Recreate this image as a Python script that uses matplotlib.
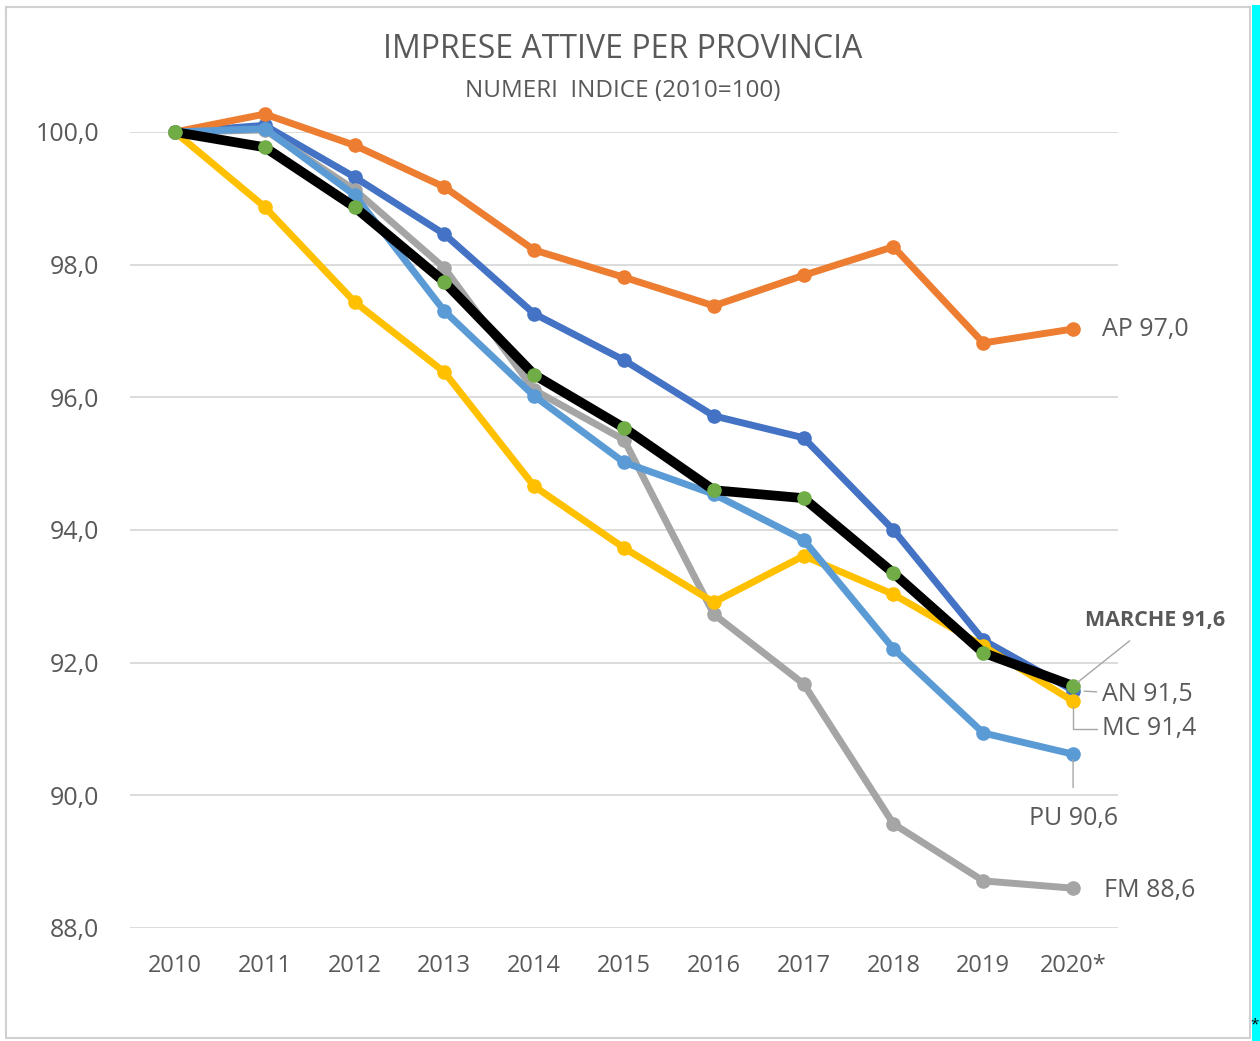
import matplotlib.pyplot as plt
from matplotlib.patches import Rectangle

plt.rcParams["font.family"] = ["Open Sans", "DejaVu Sans"]

years = ["2010", "2011", "2012", "2013", "2014", "2015", "2016", "2017", "2018", "2019", "2020*"]

an = [100.0, 100.10, 99.32, 98.46, 97.26, 96.56, 95.72, 95.39, 94.00, 92.34, 91.58]
ap = [100.0, 100.27, 99.80, 99.17, 98.22, 97.81, 97.38, 97.84, 98.27, 96.82, 97.03]
fm = [100.0, 100.03, 99.13, 97.95, 96.11, 95.36, 92.73, 91.68, 89.57, 88.71, 88.60]
mc = [100.0, 98.87, 97.44, 96.38, 94.66, 93.73, 92.91, 93.61, 93.03, 92.25, 91.42]
pu = [100.0, 100.05, 99.05, 97.30, 96.02, 95.02, 94.54, 93.85, 92.21, 90.94, 90.62]
marche = [100.0, 99.77, 98.87, 97.74, 96.34, 95.54, 94.60, 94.48, 93.35, 92.15, 91.65]

TXT = "#595959"

fig = plt.figure(figsize=(12.6, 10.41), dpi=100)
fig.patch.set_facecolor("white")

# outer frame + cyan strip on the right edge
fig.patches.append(Rectangle((0.005, 0.003), 0.987, 0.99, transform=fig.transFigure,
                             facecolor="none", edgecolor="#D0D0D0", linewidth=1.5))
fig.patches.append(Rectangle((1252 / 1260, 0), 8 / 1260, 0.995, transform=fig.transFigure,
                             facecolor="#00FFFF", edgecolor="none"))
fig.text(1255 / 1260, 0.008, "*", fontsize=11, color="black", ha="center", va="bottom")

ax = fig.add_axes([130 / 1260, 1 - 928 / 1041, 988 / 1260, 796 / 1041])
x = list(range(len(years)))

series = [
  (an, "#4472C4", "#4472C4", 5),
  (ap, "#ED7D31", "#ED7D31", 5),
  (fm, "#A5A5A5", "#A5A5A5", 5),
  (mc, "#FFC000", "#FFC000", 5),
  (pu, "#5B9BD5", "#5B9BD5", 5),
  (marche, "black", "#70AD47", 7),
]
for vals, col, mcol, lw in series:
  ax.plot(x, vals, color=col, linewidth=lw, marker="o", markersize=9.5,
          markerfacecolor=mcol, markeredgecolor=mcol, solid_joinstyle="round",
          zorder=3, clip_on=False)

ax.set_xlim(-0.5, 10.5)
ax.set_ylim(88, 100)
ax.set_yticks([88, 90, 92, 94, 96, 98, 100])
ax.set_yticklabels([f"{v:.1f}".replace(".", ",") for v in [88, 90, 92, 94, 96, 98, 100]])
ax.set_xticks(x)
ax.set_xticklabels(years)
ax.tick_params(axis="both", length=0, labelcolor=TXT)
ax.tick_params(axis="y", pad=22, labelsize=18)
ax.tick_params(axis="x", pad=19, labelsize=17)
ax.grid(axis="y", color="#D9D9D9", linewidth=1.3)
ax.set_axisbelow(True)
for s in ax.spines.values():
  s.set_visible(False)

# end labels
leader = dict(arrowstyle="-", color="#A6A6A6", linewidth=1)
fs = 18
ax.annotate("AP 97,0", xy=(10, ap[-1]), xytext=(21, 0), textcoords="offset points",
            ha="left", va="center", fontsize=fs, color=TXT)
ax.annotate("MARCHE 91,6", xy=(10, marche[-1]), xytext=(59, 47),
            textcoords="offset points", ha="center", va="center", fontsize=15.5,
            color=TXT, fontweight="bold",
            arrowprops=dict(leader, shrinkA=8, shrinkB=4))
ax.annotate("AN 91,5", xy=(10, an[-1]), xytext=(21, -3), textcoords="offset points",
            ha="left", va="center", fontsize=fs, color=TXT,
            arrowprops=dict(leader, shrinkA=2, shrinkB=8))
ax.annotate("MC 91,4", xy=(10, mc[-1]), xytext=(21, -20), textcoords="offset points",
            ha="left", va="center", fontsize=fs, color=TXT,
            arrowprops=dict(leader, shrinkA=2, shrinkB=4,
                            connectionstyle="angle,angleA=0,angleB=90,rad=0"))
ax.annotate("PU 90,6", xy=(10, pu[-1]), xytext=(0, -46), textcoords="offset points",
            ha="center", va="center", fontsize=fs, color=TXT,
            arrowprops=dict(leader, shrinkA=11, shrinkB=4))
ax.annotate("FM 88,6", xy=(10, fm[-1]), xytext=(22, -2), textcoords="offset points",
            ha="left", va="center", fontsize=fs, color=TXT)

fig.text(623 / 1260, 1 - 50 / 1041, "IMPRESE ATTIVE PER PROVINCIA", ha="center", va="center",
         fontsize=23, color=TXT)
fig.text(623 / 1260, 1 - 91 / 1041, "NUMERI  INDICE (2010=100)", ha="center", va="center",
         fontsize=17.5, color=TXT)

fig.savefig("out.png", dpi=100)
